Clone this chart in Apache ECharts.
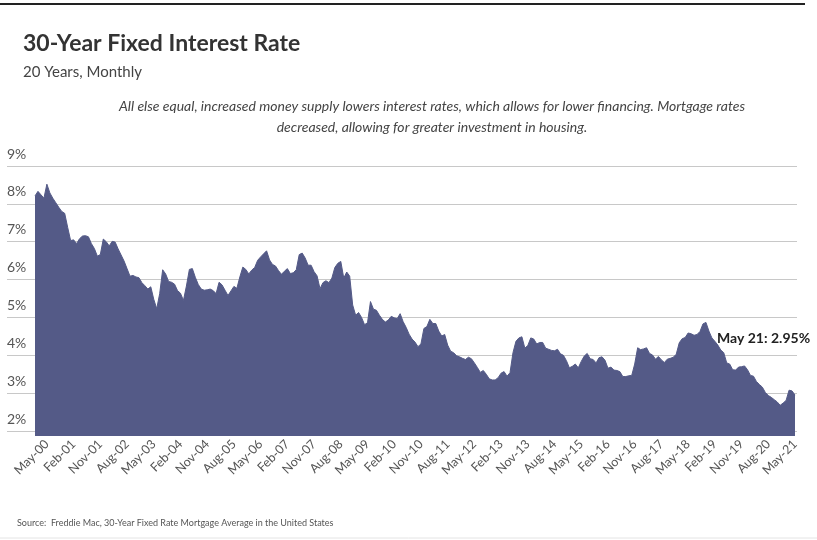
<!DOCTYPE html>
<html>
<head>
<meta charset="utf-8">
<script src="https://cdn.jsdelivr.net/npm/echarts@6/dist/echarts.min.js"></script>
<style>
html,body{margin:0;padding:0;background:#fff;}
#chart{width:817px;height:540px;}
</style>
</head>
<body>
<div id="chart"></div>
<script>
// ---- data ----
const monthNames = ['Jan','Feb','Mar','Apr','May','Jun','Jul','Aug','Sep','Oct','Nov','Dec'];
const years = ['00','01','02','03','04','05','06','07','08','09','10','11','12','13','14','15','16','17','18','19','20','21'];
const r2000 = [8.21,8.33,8.24,8.15,8.52,8.29,8.15,8.03,7.91,7.80,7.75,7.38];
const r2001 = [7.03,7.05,6.95,7.08,7.15,7.16,7.13,6.95,6.82,6.62,6.66,7.07];
const r2002 = [7.00,6.89,7.01,6.99,6.81,6.65,6.49,6.29,6.09,6.11,6.07,6.05];
const r2003 = [5.92,5.84,5.75,5.81,5.48,5.23,5.63,6.26,6.15,5.95,5.93,5.88];
const r2004 = [5.71,5.64,5.45,5.83,6.27,6.29,6.06,5.87,5.75,5.72,5.73,5.75];
const r2005 = [5.71,5.63,5.93,5.86,5.72,5.58,5.70,5.82,5.77,6.07,6.33,6.27];
const r2006 = [6.15,6.25,6.32,6.51,6.60,6.68,6.76,6.52,6.40,6.36,6.24,6.14];
const r2007 = [6.22,6.29,6.16,6.18,6.26,6.66,6.70,6.57,6.38,6.38,6.21,6.10];
const r2008 = [5.76,5.92,5.97,5.92,6.04,6.32,6.43,6.48,6.04,6.20,6.09,5.33];
const r2009 = [5.06,5.13,5.00,4.81,4.86,5.42,5.22,5.19,5.06,4.95,4.88,4.93];
const r2010 = [5.03,4.99,4.97,5.10,4.89,4.74,4.56,4.43,4.35,4.23,4.30,4.71];
const r2011 = [4.76,4.95,4.84,4.84,4.64,4.51,4.55,4.27,4.11,4.07,3.99,3.96];
const r2012 = [3.92,3.89,3.95,3.91,3.80,3.68,3.55,3.60,3.50,3.38,3.35,3.35];
const r2013 = [3.41,3.53,3.57,3.45,3.54,4.07,4.37,4.46,4.49,4.19,4.26,4.46];
const r2014 = [4.43,4.30,4.34,4.34,4.19,4.16,4.13,4.12,4.16,4.04,4.00,3.86];
const r2015 = [3.67,3.71,3.77,3.67,3.84,3.98,4.05,3.91,3.89,3.80,3.94,3.96];
const r2016 = [3.87,3.66,3.69,3.61,3.60,3.57,3.44,3.44,3.46,3.47,3.77,4.20];
const r2017 = [4.15,4.17,4.20,4.05,4.01,3.90,3.97,3.88,3.81,3.90,3.92,3.95];
const r2018 = [4.03,4.33,4.44,4.47,4.59,4.57,4.53,4.55,4.63,4.83,4.87,4.64];
const r2019 = [4.46,4.37,4.27,4.14,4.07,3.80,3.77,3.62,3.61,3.69,3.70,3.72];
const r2020 = [3.62,3.47,3.45,3.31,3.23,3.16,3.02,2.94,2.89,2.83,2.77,2.68];
const r2021 = [2.74,2.81,3.08,3.06,2.95];
const yTicks = [2,3,4,5,6,7,8,9];

const rates = [].concat(r2000,r2001,r2002,r2003,r2004,r2005,r2006,r2007,r2008,r2009,r2010,
  r2011,r2012,r2013,r2014,r2015,r2016,r2017,r2018,r2019,r2020,r2021);
const categories = [];
years.forEach(y => monthNames.forEach(m => categories.push(m + '-' + y)));
categories.length = rates.length;

const lastCat = categories[categories.length - 1];
const lastVal = rates[rates.length - 1];
const annotation = lastCat.replace('-', ' ') + ': ' + lastVal.toFixed(2) + '%';

const FONT = 'Lato, "Open Sans", sans-serif';
const AREA = '#545a87';

const chart = echarts.init(document.getElementById('chart'), null, {renderer: 'canvas'});
chart.setOption({
  animation: false,
  backgroundColor: '#fff',
  title: [
    {text: '30-Year Fixed Interest Rate', left: 18, top: 27,
     textStyle: {fontFamily: FONT, fontSize: 23, fontWeight: 'bold', color: '#333'}},
    {text: '20 Years, Monthly', left: 18, top: 60,
     textStyle: {fontFamily: FONT, fontSize: 15, fontWeight: 'normal', color: '#444'}},
    {text: 'All else equal, increased money supply lowers interest rates, which allows for lower financing. Mortgage rates\ndecreased, allowing for greater investment in housing.',
     left: 427, top: 91, textAlign: 'center',
     textStyle: {fontFamily: FONT, fontSize: 14, fontStyle: 'italic', fontWeight: 'normal', color: '#444', lineHeight: 21, align: 'center'}},
    {text: 'Source:  Freddie Mac, 30-Year Fixed Rate Mortgage Average in the United States', left: 12, top: 514,
     textStyle: {fontFamily: FONT, fontSize: 9, fontWeight: 'normal', color: '#555'}}
  ],
  grid: [
    {left: 35, right: 22, top: 166, bottom: 104},
    {left: 7, right: 20, top: 166, bottom: 109}
  ],
  xAxis: [
    {gridIndex: 0, type: 'category', data: categories, boundaryGap: false,
     axisLine: {show: false}, axisTick: {show: false},
     axisLabel: {
       interval: (i) => (i - 4) % 9 === 0,
       rotate: 45, margin: 6, fontFamily: FONT, fontSize: 12.5, color: '#555'
     }},
    {gridIndex: 1, type: 'value', show: false, min: 0, max: 1}
  ],
  yAxis: [
    {gridIndex: 0, type: 'value', min: 1.87, max: 9, show: false, splitLine: {show: false}},
    {gridIndex: 1, type: 'value', min: yTicks[0], max: yTicks[yTicks.length - 1], interval: 1,
     axisLine: {show: false}, axisTick: {show: false},
     splitLine: {show: true, lineStyle: {color: '#c8c8c8', width: 1}},
     axisLabel: {inside: true, margin: 0, formatter: '{value}%', verticalAlign: 'bottom',
       padding: [0, 0, 5, 0], fontFamily: FONT, fontSize: 14, color: '#555'}}
  ],
  series: [{
    type: 'line', xAxisIndex: 0, yAxisIndex: 0, data: rates,
    symbol: 'none', lineStyle: {color: AREA, width: 1},
    areaStyle: {color: AREA, opacity: 1}, z: 3
  }],
  graphic: [
    {type: 'line', shape: {x1: 0, y1: 4, x2: 805, y2: 4}, style: {stroke: '#222', lineWidth: 2}},
    {type: 'line', shape: {x1: 0, y1: 538, x2: 817, y2: 538}, style: {stroke: '#e4e4e4', lineWidth: 1}},
    {type: 'text', left: 717, top: 331, z: 10,
     style: {text: annotation, font: 'bold 14px ' + FONT, fill: '#222'}}
  ]
});
</script>
</body>
</html>
